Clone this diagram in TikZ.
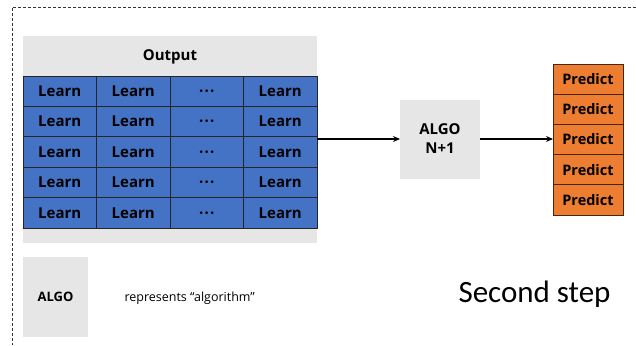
\documentclass[tikz,border=0pt]{standalone}
\usepackage{fontspec}
\setmainfont{Open Sans}
\newfontfamily\stepfont{Carlito}
\usetikzlibrary{arrows.meta}
\definecolor{lgray}{HTML}{E7E6E6}
\definecolor{lblue}{HTML}{4472C4}
\definecolor{lorange}{HTML}{ED7D31}
\newcommand{\mydots}{\vphantom{Learn}·\kern1.2pt·\kern1.2pt·}
\begin{document}
\begin{tikzpicture}[x=1pt,y=-1pt,
  cellbox/.style={draw=black!85, line width=0.8pt, fill=lblue, minimum width=73.5pt, minimum height=30.4pt, inner sep=0pt, outer sep=0pt, font=\bfseries\fontsize{15}{17}\selectfont},
  predbox/.style={draw=black!70!lorange, line width=0.8pt, fill=lorange, minimum width=70pt, minimum height=30.2pt, inner sep=0pt, outer sep=0pt, font=\bfseries\fontsize{14.5}{17}\selectfont},
  graybox/.style={fill=lgray, draw=none, inner sep=0pt, outer sep=0pt},
  conn/.style={-{Stealth[length=7pt,width=6pt]}, line width=1.3pt},
  border/.style={densely dashed, line width=0.5pt, black!80}]
\useasboundingbox (0,0) rectangle (636,345);
% dashed frame
\draw[border] (636,7) -- (12,7) -- (12,345);
% output panel
\node[graybox, minimum width=294pt, minimum height=207pt, anchor=north west] (panel) at (23,36) {};
\node[font=\bfseries\fontsize{15}{17}\selectfont] (outtxt) at (170,57) {Output};
\foreach \r in {1,...,5}{
  \foreach \c/\t in {1/Learn,2/Learn,3/\mydots,4/Learn}{
    \node[cellbox, anchor=north west] (cell-\r-\c) at ({23+(\c-1)*73.5},{76+(\r-1)*30.4}) {\t};
  }
}
% algo box
\node[graybox, minimum width=80pt, minimum height=79pt, align=center, font=\bfseries\fontsize{15}{19}\selectfont] (algo) at (440,139) {ALGO\\N+1};
% predict column
\foreach \r in {1,...,5}{
  \node[predbox, anchor=north west] (pred-\r) at (553,{64+(\r-1)*30.2}) {Predict};
}
% connectors
\draw[conn] (cell-3-4.east |- algo.west) -- (algo.west);
\draw[conn] (algo.east) -- (algo.east -| pred-3.west);
% legend
\node[graybox, minimum width=65pt, minimum height=80pt, font=\bfseries\fontsize{13}{15}\selectfont] (legalgo) at (55.5,297) {ALGO};
\node[font=\fontsize{12.5}{15}\selectfont, anchor=west] (legtxt) at (121,298) {represents “algorithm”};
\node[font=\stepfont\fontsize{31}{36}\selectfont, anchor=west] (step) at (455,294) {Second step};
\end{tikzpicture}
\end{document}
